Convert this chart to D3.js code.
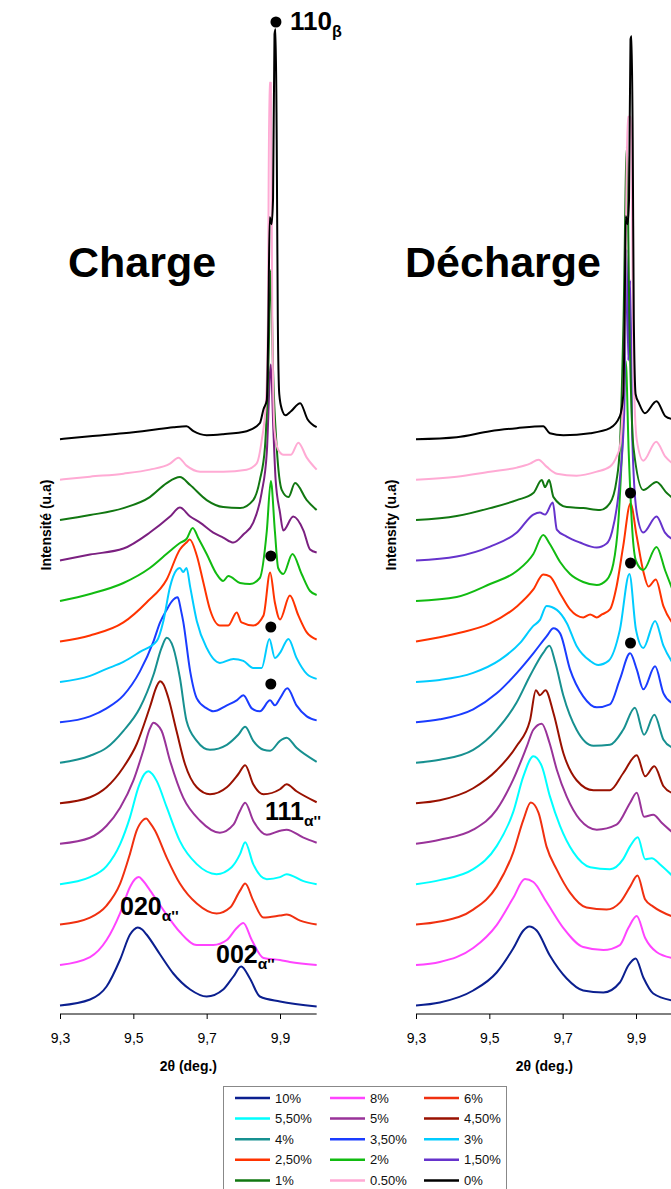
<!DOCTYPE html>
<html><head><meta charset="utf-8">
<script src="https://cdn.jsdelivr.net/npm/d3@7"></script>
<style>body{margin:0;background:#fff;} svg{display:block;} text{font-family:"Liberation Sans",Arial,sans-serif;}</style>
</head><body><svg id="chart" width="671" height="1189"></svg>
<script>
// ---- categories / labels ----
const seriesLabels = ["10%","8%","6%","5,50%","5%","4,50%","4%","3,50%","3%","2,50%","2%","1,50%","1%","0.50%","0%"];
const chargeColors   = ["#0b1f8f","#ff44ff","#f03010","#00ffff","#993399","#991100","#179090","#1a3cff","#00ccff","#ff3300","#11bb11","#7b2080","#117711","#ffaad4","#000000"];
const dechargeColors = ["#0b1f8f","#ff44ff","#f03010","#00ffff","#993399","#991100","#179090","#1a3cff","#00ccff","#ff3300","#11bb11","#6633cc","#117711","#ffaad4","#000000"];
const legendColors   = dechargeColors;
const tickValues = [9.3, 9.5, 9.7, 9.9];

// ---- Charge series: [2theta, intensity above own baseline] ----
const c_10 = [[9.3,0],[9.382,6],[9.427,19],[9.464,46],[9.491,71],[9.502,76],[9.512,78],[9.524,76],[9.536,71],[9.573,51],[9.609,32],[9.655,16],[9.7,9],[9.745,16],[9.773,29],[9.794,39],[9.818,27],[9.845,9],[9.9,4],[10,-1]];
const c_8  = [[9.3,0],[9.382,8],[9.427,25],[9.464,52],[9.491,78],[9.505,86],[9.515,88],[9.527,84],[9.545,75],[9.582,55],[9.627,33],[9.673,20],[9.718,20],[9.755,25],[9.782,37],[9.8,42],[9.823,25],[9.855,7],[9.9,5],[9.927,3],[10,0]];
const c_6  = [[9.3,0],[9.382,7],[9.427,19],[9.464,41],[9.491,71],[9.509,94],[9.525,104],[9.535,106],[9.545,102],[9.559,94],[9.591,67],[9.627,41],[9.673,21],[9.727,11],[9.764,17],[9.791,34],[9.805,41],[9.827,24],[9.855,7],[9.9,9],[9.918,10],[9.955,4],[10,0]];
const c_55 = [[9.3,0],[9.382,7],[9.427,18],[9.464,40],[9.491,67],[9.514,97],[9.53,110],[9.541,113],[9.552,110],[9.564,103],[9.591,77],[9.627,43],[9.673,20],[9.727,10],[9.768,17],[9.791,30],[9.805,42],[9.827,20],[9.864,5],[9.9,7],[9.918,10],[9.964,3],[10,0]];
const c_5  = [[9.3,0],[9.382,6],[9.427,18],[9.464,36],[9.5,63],[9.527,93],[9.545,115],[9.555,121],[9.565,119],[9.577,113],[9.6,83],[9.636,46],[9.682,23],[9.736,11],[9.773,19],[9.791,33],[9.805,41],[9.827,23],[9.864,9],[9.9,13],[9.918,14],[9.964,6],[10,1]];
const c_45 = [[9.3,0],[9.382,6],[9.427,16],[9.473,36],[9.509,59],[9.545,96],[9.565,118],[9.573,122],[9.582,119],[9.595,106],[9.618,72],[9.641,39],[9.673,16],[9.709,9],[9.755,16],[9.786,29],[9.805,38],[9.827,19],[9.855,9],[9.9,14],[9.918,19],[9.945,12],[10,1]];
const c_4  = [[9.3,0],[9.382,7],[9.427,15],[9.473,32],[9.518,55],[9.555,88],[9.577,115],[9.591,125],[9.609,115],[9.627,85],[9.645,42],[9.673,22],[9.709,13],[9.755,18],[9.786,28],[9.805,36],[9.827,22],[9.855,13],[9.873,12],[9.9,22],[9.918,25],[9.945,15],[10,1]];
const c_35 = [[9.3,0],[9.382,6],[9.427,14],[9.473,27],[9.518,51],[9.555,81],[9.573,100],[9.59,112],[9.605,121],[9.621,125],[9.63,112],[9.636,101],[9.655,51],[9.673,24],[9.7,14],[9.718,11],[9.755,17],[9.782,22],[9.8,27],[9.823,14],[9.845,11],[9.873,22],[9.886,17],[9.9,24],[9.92,34],[9.945,17],[9.973,6],[10,2]];
const c_3  = [[9.3,0],[9.382,6],[9.427,13],[9.473,20],[9.518,30],[9.564,41],[9.582,61],[9.6,95],[9.618,112],[9.627,114],[9.636,110],[9.645,114],[9.655,95],[9.673,61],[9.7,34],[9.736,19],[9.773,23],[9.8,21],[9.827,14],[9.85,14],[9.871,43],[9.886,24],[9.9,29],[9.923,43],[9.945,24],[9.973,8],[10,3]];
const c_25 = [[9.3,0],[9.382,6],[9.473,19],[9.536,39],[9.591,62],[9.627,92],[9.645,99],[9.654,102],[9.673,86],[9.691,59],[9.709,32],[9.736,16],[9.759,16],[9.782,29],[9.795,19],[9.827,16],[9.855,26],[9.873,69],[9.886,39],[9.9,22],[9.927,46],[9.95,26],[9.973,9],[10,2]];
const c_2  = [[9.3,0],[9.382,7],[9.473,18],[9.545,33],[9.6,50],[9.627,58],[9.645,62],[9.662,73],[9.677,63],[9.7,47],[9.727,27],[9.745,20],[9.759,25],[9.791,18],[9.818,17],[9.845,23],[9.864,70],[9.875,120],[9.886,70],[9.895,33],[9.909,27],[9.934,47],[9.959,27],[9.982,10],[10,6]];
const c_15 = [[9.3,0],[9.382,6],[9.473,12],[9.545,28],[9.6,44],[9.627,53],[9.655,44],[9.682,38],[9.718,28],[9.745,23],[9.773,18],[9.8,26],[9.827,38],[9.85,68],[9.864,108],[9.875,196],[9.882,130],[9.888,81],[9.9,48],[9.909,30],[9.936,44],[9.964,30],[9.982,11],[10,8]];
const c_1  = [[9.3,0],[9.382,5],[9.473,12],[9.545,23],[9.591,37],[9.627,43],[9.655,35],[9.7,20],[9.745,13],[9.791,12],[9.827,20],[9.845,40],[9.859,73],[9.868,150],[9.875,250],[9.881,150],[9.891,73],[9.905,30],[9.923,23],[9.941,37],[9.973,20],[10,10]];
const c_05 = [[9.3,0],[9.382,3],[9.473,6],[9.545,10],[9.6,16],[9.623,22],[9.645,14],[9.682,8],[9.745,8],[9.809,10],[9.836,16],[9.85,39],[9.862,80],[9.867,160],[9.871,397],[9.875,397],[9.879,160],[9.885,50],[9.895,30],[9.91,25],[9.93,25],[9.95,37],[9.973,22],[10,10]];
const c_0  = [[9.3,0],[9.382,3],[9.473,6],[9.545,9],[9.609,12],[9.645,13],[9.664,8],[9.7,4],[9.745,5],[9.809,8],[9.845,16],[9.855,30],[9.864,39],[9.868,110],[9.872,222],[9.877,215],[9.881,240],[9.885,405],[9.888,410],[9.891,300],[9.894,120],[9.898,45],[9.905,30],[9.915,24],[9.93,28],[9.955,36],[9.975,20],[10,12]];

// ---- Décharge series ----
const d_10 = [[9.3,0],[9.365,3],[9.456,15],[9.52,33],[9.565,57],[9.593,75],[9.609,79],[9.629,75],[9.665,50],[9.711,27],[9.756,15],[9.811,13],[9.856,23],[9.879,40],[9.899,47],[9.92,28],[9.947,12],[10,5]];
const d_8  = [[9.3,0],[9.365,3],[9.456,17],[9.52,40],[9.565,67],[9.597,86],[9.62,83],[9.656,63],[9.702,37],[9.756,18],[9.811,15],[9.856,20],[9.879,37],[9.902,49],[9.925,27],[9.956,13],[10,7]];
const d_6  = [[9.3,0],[9.365,3],[9.456,15],[9.52,38],[9.565,72],[9.593,105],[9.613,122],[9.634,112],[9.656,78],[9.684,55],[9.72,32],[9.765,17],[9.82,15],[9.856,22],[9.884,38],[9.904,49],[9.925,25],[9.947,18],[10,8]];
const d_55 = [[9.3,0],[9.365,4],[9.456,15],[9.52,38],[9.565,72],[9.593,108],[9.62,128],[9.643,118],[9.665,88],[9.693,58],[9.729,32],[9.775,17],[9.829,15],[9.865,25],[9.884,38],[9.905,47],[9.925,25],[9.943,26],[9.965,20],[10,8]];
const d_5  = [[9.3,0],[9.365,4],[9.456,14],[9.52,34],[9.565,64],[9.602,97],[9.62,114],[9.643,120],[9.664,101],[9.684,74],[9.711,47],[9.747,24],[9.793,14],[9.847,19],[9.884,41],[9.902,51],[9.922,27],[9.947,29],[9.97,21],[10,11]];
const d_45 = [[9.3,0],[9.365,3],[9.456,15],[9.52,33],[9.574,57],[9.611,83],[9.627,113],[9.638,108],[9.653,113],[9.675,90],[9.702,50],[9.738,23],[9.784,13],[9.829,13],[9.865,30],[9.902,48],[9.925,27],[9.95,37],[9.975,17],[10,10]];
const d_4  = [[9.3,0],[9.365,3],[9.456,13],[9.52,33],[9.574,60],[9.611,87],[9.647,110],[9.664,117],[9.68,100],[9.702,67],[9.738,33],[9.784,17],[9.829,18],[9.865,33],[9.897,55],[9.922,28],[9.95,48],[9.975,23],[10,15]];
const d_35 = [[9.3,0],[9.365,3],[9.456,13],[9.52,29],[9.574,49],[9.62,69],[9.656,86],[9.675,94],[9.693,89],[9.72,53],[9.756,26],[9.793,15],[9.829,18],[9.856,43],[9.884,69],[9.902,53],[9.92,33],[9.952,56],[9.975,29],[10,19]];
const d_3  = [[9.3,0],[9.365,2],[9.456,9],[9.529,22],[9.584,39],[9.62,56],[9.638,62],[9.656,76],[9.684,72],[9.711,59],[9.738,36],[9.775,21],[9.797,17],[9.825,21],[9.856,52],[9.882,108],[9.9,52],[9.92,34],[9.952,61],[9.975,36],[10,19]];
const d_25 = [[9.3,0],[9.411,8],[9.502,18],[9.575,35],[9.62,52],[9.647,67],[9.665,65],[9.693,48],[9.72,32],[9.756,24],[9.775,27],[9.793,24],[9.807,27],[9.829,32],[9.847,55],[9.865,95],[9.885,138],[9.902,105],[9.92,70],[9.934,55],[9.954,62],[9.975,35],[10,18]];
const d_2  = [[9.3,0],[9.411,4],[9.502,17],[9.575,30],[9.62,47],[9.647,66],[9.665,57],[9.693,39],[9.72,27],[9.756,19],[9.793,16],[9.82,21],[9.838,37],[9.852,80],[9.862,150],[9.872,240],[9.88,150],[9.89,70],[9.9,40],[9.92,31],[9.956,54],[9.98,30],[10,11]];
const d_15 = [[9.3,0],[9.411,4],[9.502,14],[9.575,28],[9.62,46],[9.638,48],[9.652,46],[9.673,58],[9.684,31],[9.711,24],[9.747,18],[9.793,13],[9.82,17],[9.834,28],[9.856,81],[9.868,150],[9.874,311],[9.879,200],[9.884,280],[9.89,120],[9.902,48],[9.92,28],[9.956,44],[9.979,28],[10,21]];
const d_1  = [[9.3,0],[9.411,4],[9.502,12],[9.575,20],[9.62,27],[9.643,40],[9.652,33],[9.663,40],[9.675,23],[9.711,13],[9.756,12],[9.802,10],[9.829,17],[9.847,40],[9.856,73],[9.866,200],[9.875,373],[9.882,200],[9.893,73],[9.92,30],[9.956,38],[9.984,27],[10,22]];
const d_05 = [[9.3,0],[9.411,3],[9.502,8],[9.575,12],[9.611,16],[9.634,20],[9.656,13],[9.684,6],[9.738,4],[9.793,8],[9.829,13],[9.847,23],[9.856,33],[9.868,120],[9.878,363],[9.886,363],[9.893,120],[9.902,40],[9.92,19],[9.955,38],[9.98,23],[10,16]];
const d_0  = [[9.3,0],[9.411,2],[9.502,8],[9.575,11],[9.647,13],[9.665,6],[9.702,4],[9.775,6],[9.829,11],[9.856,23],[9.865,43],[9.869,120],[9.872,223],[9.877,215],[9.881,240],[9.885,400],[9.888,403],[9.891,300],[9.894,120],[9.899,45],[9.908,36],[9.924,26],[9.956,38],[9.98,23],[10,20]];

const chargeSeries   = [c_10,c_8,c_6,c_55,c_5,c_45,c_4,c_35,c_3,c_25,c_2,c_15,c_1,c_05,c_0];
const dechargeSeries = [d_10,d_8,d_6,d_55,d_5,d_45,d_4,d_35,d_3,d_25,d_2,d_15,d_1,d_05,d_0];

// beta-phase markers [2theta, absolute intensity]
const chargeDots   = [[9.875,458],[9.875,387],[9.875,330]];
const dechargeDots = [[9.885,521],[9.885,451],[9.885,371]];
const betaDot = [9.889,992];

// ---- drawing ----
const svg = d3.select("#chart");
const y = d3.scaleLinear().domain([0,1000]).range([1014,14]);
const offsetStep = 40.45, offsetBase = 8.5;

function drawPanel(x, series, colors, dots, title, ylab, ylabX) {
  const g = svg.append("g");
  const line = d3.line().x(d => x(d[0])).curve(d3.curveMonotoneX);
  series.forEach((s, i) => {
    const off = offsetBase + offsetStep * i;
    g.append("path").datum(s)
      .attr("fill","none").attr("stroke",colors[i]).attr("stroke-width",2)
      .attr("stroke-linejoin","round")
      .attr("d", line.y(d => y(off + d[1])));
  });
  g.selectAll("circle.dot").data(dots).join("circle")
    .attr("cx", d => x(d[0])).attr("cy", d => y(d[1])).attr("r", 5.5).attr("fill","#000");
  const axis = d3.axisBottom(x).tickValues(tickValues).tickSize(5).tickSizeOuter(0).tickPadding(14)
    .tickFormat(d => d3.format(".1f")(d).replace(".", ","));
  const ax = g.append("g").attr("transform","translate(0,1014)").call(axis);
  ax.select(".domain").attr("stroke","#000").attr("d", `M${x(9.3)},0H${x(10.0)}`);
  ax.selectAll(".tick line").attr("stroke","#000");
  ax.selectAll("text").attr("font-size",14).attr("fill","#000").style("font-family","'Liberation Sans',Arial,sans-serif");
  g.append("text").attr("x",(x(9.3)+x(10.0))/2).attr("y",1071).attr("text-anchor","middle")
    .attr("font-size",14).attr("font-weight","bold").text("2θ (deg.)");
  g.append("text").attr("x",title.x).attr("y",277).attr("font-size",43).attr("font-weight","bold").text(title.t);
  g.append("text").attr("transform",`translate(${ylabX},525) rotate(-90)`).attr("text-anchor","middle")
    .attr("font-size",14).attr("font-weight","bold").text(ylab);
}

const xc = d3.scaleLinear().domain([9.3,10.0]).range([60, 60 + 0.7*366.67]);
const xd = d3.scaleLinear().domain([9.3,10.0]).range([416, 416 + 0.7*366.67]);
drawPanel(xc, chargeSeries, chargeColors, chargeDots, {x:68,t:"Charge"}, "Intensité (u.a)", 51);
drawPanel(xd, dechargeSeries, dechargeColors, dechargeDots, {x:405,t:"Décharge"}, "Intensity (u.a)", 396);

// beta peak label
svg.append("circle").attr("cx", xc(betaDot[0])).attr("cy", y(betaDot[1])).attr("r",5.5).attr("fill","#000");
function peakLabel(xp, yp, main, sub, fs) {
  const t = svg.append("text").attr("x",xp).attr("y",yp).attr("font-weight","bold").attr("font-size",fs);
  t.append("tspan").text(main);
  t.append("tspan").attr("font-size",fs*0.62).attr("dy",fs*0.25).text(sub);
}
peakLabel(290, 30, "110", "β", 26);
peakLabel(265, 820, "111", "α''", 25);
peakLabel(120, 915, "020", "α''", 25);
peakLabel(216, 963, "002", "α''", 25);

// legend
const lg = svg.append("g");
lg.append("rect").attr("x",223.5).attr("y",1086.5).attr("width",283).attr("height",120)
  .attr("fill","#fff").attr("stroke","#888").attr("stroke-width",1);
const colX = [235, 330, 424];
seriesLabels.forEach((lab, i) => {
  const c = i % 3, r = Math.floor(i / 3);
  const yy = 1098 + r * 20.6;
  lg.append("line").attr("x1",colX[c]).attr("x2",colX[c]+35).attr("y1",yy).attr("y2",yy)
    .attr("stroke",legendColors[i]).attr("stroke-width",2.5);
  lg.append("text").attr("x",colX[c]+40).attr("y",yy+4.5).attr("font-size",13).attr("fill","#111").text(lab);
});
</script></body></html>
